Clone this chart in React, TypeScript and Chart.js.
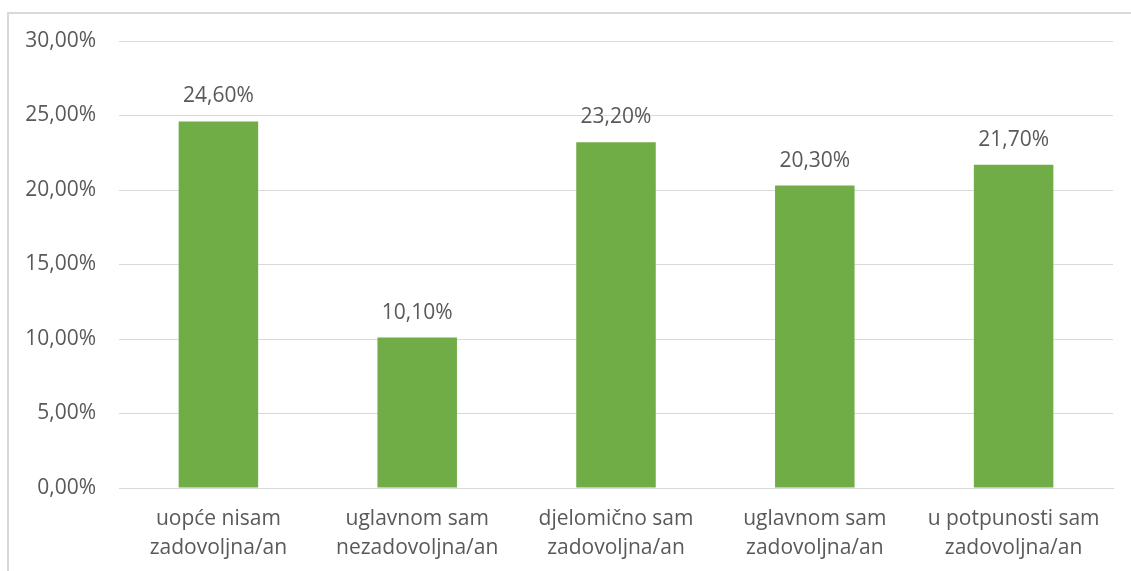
import React, { useEffect, useRef } from "react";
import { Chart, registerables } from "chart.js";

Chart.register(...registerables);

const categories: string[][] = [
  ["uopće nisam", "zadovoljna/an"],
  ["uglavnom sam", "nezadovoljna/an"],
  ["djelomično sam", "zadovoljna/an"],
  ["uglavnom sam", "zadovoljna/an"],
  ["u potpunosti sam", "zadovoljna/an"],
];
const values: number[] = [24.6, 10.1, 23.2, 20.3, 21.7];
const yMin = 0;
const yMax = 30;
const yStep = 5;

const FONT = "'Open Sans', sans-serif";
const TEXT = "#595959";
const fmt = (v: number) => v.toFixed(2).replace(".", ",") + "%";

const labelPlugin = {
  id: "barLabels",
  afterDatasetsDraw(chart: any) {
    const ctx = chart.ctx;
    const meta = chart.getDatasetMeta(0);
    ctx.save();
    ctx.font = `21px ${FONT}`;
    ctx.fillStyle = TEXT;
    ctx.textAlign = "center";
    ctx.textBaseline = "alphabetic";
    meta.data.forEach((bar: any, i: number) => {
      ctx.fillText(fmt(values[i]), bar.x, bar.y - 19);
    });
    ctx.restore();
  },
};

export default function App() {
  const ref = useRef<HTMLCanvasElement | null>(null);
  useEffect(() => {
    if (!ref.current) return;
    const chart = new Chart(ref.current, {
      type: "bar",
      data: {
        labels: categories,
        datasets: [
          {
            data: values,
            backgroundColor: "#70ad47",
            categoryPercentage: 1,
            barPercentage: 0.4,
          },
        ],
      },
      options: {
        animation: false,
        responsive: false,
        maintainAspectRatio: false,
        layout: { padding: { top: 41, right: 18, left: 0, bottom: 0 } },
        plugins: { legend: { display: false }, tooltip: { enabled: false } },
        scales: {
          x: {
            grid: { display: false, drawTicks: false },
            border: { display: true, color: "#d9d9d9", width: 1 },
            ticks: {
              color: TEXT,
              font: { family: FONT, size: 21, lineHeight: 1.35 },
              padding: 17,
              maxRotation: 0,
              autoSkip: false,
            },
            afterFit: (s: any) => {
              s.height = 83;
            },
          },
          y: {
            min: yMin,
            max: yMax,
            grid: { color: "#d9d9d9", drawTicks: false, lineWidth: 1 },
            border: { display: false },
            ticks: {
              stepSize: yStep,
              color: TEXT,
              padding: 23,
              font: { family: FONT, size: 21 },
              callback: (v: any) => fmt(Number(v)),
            },
            afterFit: (s: any) => {
              s.width = 119;
            },
          },
        },
      },
      plugins: [labelPlugin],
    });
    return () => chart.destroy();
  }, []);

  return (
    <div style={{ position: "fixed", left: 0, top: 0, width: 1131, height: 571, background: "#fff" }}>
      <div
        style={{
          position: "absolute",
          left: 7,
          top: 12,
          width: 1200,
          height: 600,
          borderLeft: "2px solid #d9d9d9",
          borderTop: "2px solid #d9d9d9",
        }}
      />
      <canvas ref={ref} width={1131} height={571} style={{ position: "absolute", left: 0, top: 0 }} />
    </div>
  );
}
